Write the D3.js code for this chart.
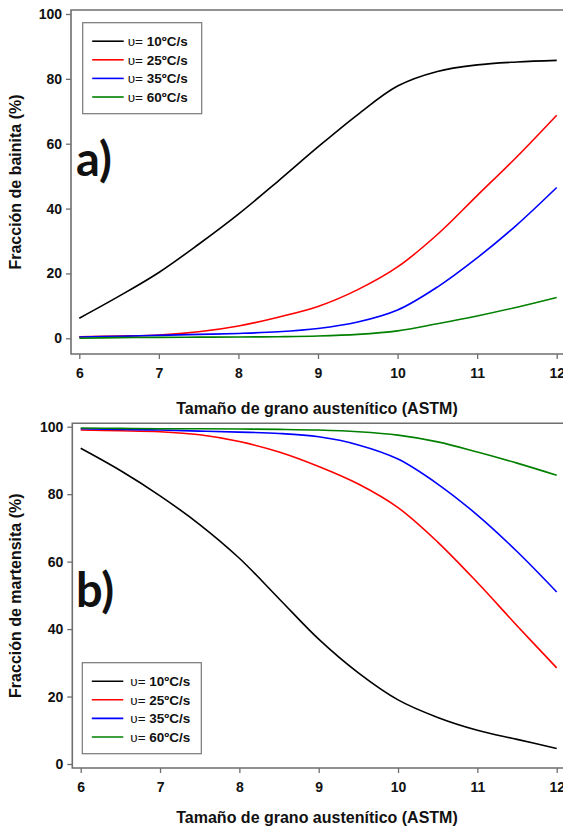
<!DOCTYPE html>
<html>
<head>
<meta charset="utf-8">
<script src="https://cdn.jsdelivr.net/npm/d3@7"></script>
<style>
body { margin: 0; background: #fff; }
svg text { font-family: "Liberation Sans", Arial, sans-serif; }
.tick text { font-weight: bold; font-size: 14px; fill: #111; }
.axisTitle { font-weight: bold; font-size: 16px; fill: #111; }
.panelLabel { font-family: Lato, "Open Sans", sans-serif !important; font-weight: bold; font-size: 47px; fill: #111; }
</style>
</head>
<body>
<div id="chart"></div>
<script>
// grain size (ASTM)
var grain = [6, 6.5, 7, 7.5, 8, 8.5, 9, 9.5, 10, 10.5, 11, 11.5, 12];
var xTicks = [6, 7, 8, 9, 10, 11, 12];
var yTicks = [0, 20, 40, 60, 80, 100];

var seriesNames = ["10ºC/s", "25ºC/s", "35ºC/s", "60ºC/s"];
var seriesColors = ["#000000", "#ff0000", "#0000ff", "#008000"];

// bainite fraction (%)
var bain10 = [6.2, 13, 20.3, 29, 38.3, 48.5, 59, 69, 77.8, 82.3, 84.3, 85.2, 85.7];
var bain25 = [0.5, 0.7, 1, 2, 3.8, 6.5, 9.8, 15, 22, 32, 44, 56, 68.8];
var bain35 = [0.4, 0.6, 0.9, 1.2, 1.5, 2, 3, 5, 8.7, 15.8, 24.8, 35, 46.5];
var bain60 = [0, 0.2, 0.3, 0.35, 0.4, 0.5, 0.7, 1.2, 2.3, 4.5, 6.9, 9.6, 12.6];

// martensite fraction (%)
var mart10 = [93.6, 87, 79.5, 71, 61, 49, 37, 27, 19, 13.8, 10, 7.3, 4.6];
var mart25 = [99, 98.8, 98.5, 97.6, 95.6, 92.5, 88.2, 83, 76, 65.8, 53.8, 41, 28.5];
var mart35 = [99.4, 99.2, 99, 98.7, 98.4, 98, 97, 94.6, 90.4, 83, 73.8, 63, 51];
var mart60 = [99.6, 99.5, 99.4, 99.4, 99.3, 99.2, 99, 98.5, 97.5, 95.5, 92.5, 89.2, 85.6];

var W = 563, H = 828;

var svg = d3.select("#chart")
	.append("svg")
	.attr("width", W)
	.attr("height", H);

function makePanel(cfg) {
	var x = d3.scaleLinear().domain([6, 12]).range([cfg.x6, cfg.x12]);
	var y = d3.scaleLinear().domain([0, 100]).range([cfg.y0, cfg.y100]);

	var g = svg.append("g");

	// frame
	g.append("path")
		.attr("d", "M" + (W + 5) + "," + cfg.top + "H" + cfg.left + "V" + cfg.bottom + "H" + (W + 5))
		.attr("fill", "none")
		.attr("stroke", "#6e6e6e")
		.attr("stroke-width", 1.6);

	// axes
	g.append("g")
		.attr("transform", "translate(0," + cfg.bottom + ")")
		.call(d3.axisBottom(x).tickValues(xTicks).tickSize(5).tickPadding(9).tickFormat(d3.format("d")));
	g.append("g")
		.attr("transform", "translate(" + cfg.left + ",0)")
		.call(d3.axisLeft(y).tickValues(yTicks).tickSize(5).tickPadding(4).tickFormat(d3.format("d")));
	g.selectAll(".domain").remove();
	g.selectAll(".tick line").attr("stroke", "#6e6e6e").attr("stroke-width", 1.3);

	// curves
	var line = d3.line()
		.x(function(d, i) { return x(grain[i]); })
		.y(function(d) { return y(d); })
		.curve(d3.curveCatmullRom.alpha(0.5));

	cfg.data.forEach(function(s, i) {
		g.append("path")
			.attr("d", line(s))
			.attr("fill", "none")
			.attr("stroke", seriesColors[i])
			.attr("stroke-width", 1.6);
	});

	// axis titles
	g.append("text")
		.attr("class", "axisTitle")
		.attr("x", 317)
		.attr("y", cfg.xTitleY)
		.attr("text-anchor", "middle")
		.text("Tamaño de grano austenítico (ASTM)");

	g.append("text")
		.attr("class", "axisTitle")
		.attr("transform", "translate(21," + ((cfg.top + cfg.bottom) / 2) + ") rotate(-90)")
		.attr("text-anchor", "middle")
		.text(cfg.yTitle);

	// panel label
	g.append("text")
		.attr("class", "panelLabel")
		.attr("x", cfg.labelX)
		.attr("y", cfg.labelY)
		.text(cfg.label);

	// legend
	var lg = g.append("g").attr("transform", "translate(" + cfg.legX + "," + cfg.legY + ")");
	lg.append("rect")
		.attr("width", 119)
		.attr("height", 91)
		.attr("fill", "#fff")
		.attr("stroke", "#777")
		.attr("stroke-width", 1.2);

	seriesNames.forEach(function(name, i) {
		var yy = 18.5 + i * 18.6;
		lg.append("line")
			.attr("x1", 9.5).attr("x2", 41)
			.attr("y1", yy).attr("y2", yy)
			.attr("stroke", seriesColors[i])
			.attr("stroke-width", 1.6);
		var t = lg.append("text")
			.attr("x", cfg.legTextX)
			.attr("y", yy + 5)
			.style("font-size", "13.5px")
			.attr("fill", "#111");
		t.append("tspan").text("υ= ");
		t.append("tspan").style("font-weight", "bold").text(name);
	});
}

makePanel({
	left: 71, top: 10, bottom: 354,
	x6: 79.3, x12: 556.7, y0: 338.3, y100: 14,
	xTitleY: 414,
	yTitle: "Fracción de bainita (%)",
	label: "a)", labelX: 76, labelY: 176,
	legX: 82.7, legY: 22.7, legTextX: 45,
	data: [bain10, bain25, bain35, bain60]
});

makePanel({
	left: 72.3, top: 423.3, bottom: 768,
	x6: 80.7, x12: 556.7, y0: 764, y100: 426.7,
	xTitleY: 823,
	yTitle: "Fracción de martensita (%)",
	label: "b)", labelX: 76, labelY: 607,
	legX: 82.3, legY: 662.7, legTextX: 48,
	data: [mart10, mart25, mart35, mart60]
});
</script>
</body>
</html>
